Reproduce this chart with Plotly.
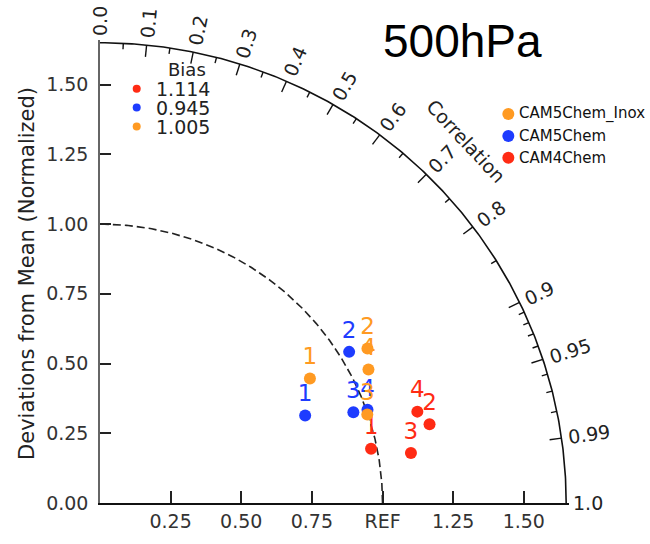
import numpy as np
import plotly.graph_objects as go

# ---------------- data ----------------
models = ["CAM4Chem", "CAM5Chem", "CAM5Chem_Inox"]
model_colors = ["#ff2b14", "#1e3cff", "#ff9a22"]
case_labels = ["1", "2", "3", "4"]

std_cam4 = [0.979, 1.200, 1.115, 1.170]
corr_cam4 = [0.980, 0.972, 0.987, 0.960]
std_cam5 = [0.791, 1.035, 0.954, 1.004]
corr_cam5 = [0.918, 0.852, 0.940, 0.943]
std_inox = [0.867, 1.097, 0.998, 1.064]
corr_inox = [0.857, 0.863, 0.948, 0.893]

bias_values = [1.114, 0.945, 1.005]

corr_major = [0.0, 0.1, 0.2, 0.3, 0.4, 0.5, 0.6, 0.7, 0.8, 0.9, 0.95, 0.99, 1.0]
corr_major_text = ["0.0", "0.1", "0.2", "0.3", "0.4", "0.5", "0.6", "0.7", "0.8", "0.9",
                   "0.95", "0.99", "1.0"]
corr_minor = [0.05, 0.15, 0.25, 0.35, 0.45, 0.55, 0.65, 0.75, 0.85,
              0.91, 0.92, 0.93, 0.94, 0.96, 0.97, 0.98]
x_tickvals = [0.25, 0.5, 0.75, 1.0, 1.25, 1.5]
x_ticktext = ["0.25", "0.50", "0.75", "REF", "1.25", "1.50"]
y_tickvals = [0.0, 0.25, 0.5, 0.75, 1.0, 1.25, 1.5]
y_ticktext = ["0.00", "0.25", "0.50", "0.75", "1.00", "1.25", "1.50"]

RMAX = 1.65
REF = 1.0
AXMAX = 1.66

# ---------------- layout constants ----------------
W, H = 650, 544
PX = 282.5  # pixels per unit
L, B = 100, 35
PW = AXMAX * PX
R = W - L - PW
T = H - B - PW
FONT = "DejaVu Sans"


def paper(px, py):
    """pixel position -> paper coordinates"""
    return (px - L) / PW, (H - B - py) / PW


def data_to_paper(x, y):
    return x / AXMAX, y / AXMAX


fig = go.Figure()

# outer arc
th = np.linspace(0, np.pi / 2, 300)
fig.add_trace(go.Scatter(x=RMAX * np.cos(th), y=RMAX * np.sin(th), mode="lines",
                         line=dict(color="#111", width=1.6), hoverinfo="skip", showlegend=False))
# reference arc (dashed)
fig.add_trace(go.Scatter(x=REF * np.cos(th), y=REF * np.sin(th), mode="lines",
                         line=dict(color="#222", width=1.6, dash="8px,4px"),
                         hoverinfo="skip", showlegend=False))


# correlation ticks on the outer arc
def tick_segments(vals, length):
    xs, ys = [], []
    for c in vals:
        a = np.arccos(c)
        xs += [RMAX * np.cos(a), (RMAX - length) * np.cos(a), None]
        ys += [RMAX * np.sin(a), (RMAX - length) * np.sin(a), None]
    return xs, ys


mx, my = tick_segments(corr_major[1:-1], 12 / PX)
fig.add_trace(go.Scatter(x=mx, y=my, mode="lines", line=dict(color="#111", width=1.4),
                         hoverinfo="skip", showlegend=False))
nx, ny = tick_segments(corr_minor, 6 / PX)
fig.add_trace(go.Scatter(x=nx, y=ny, mode="lines", line=dict(color="#111", width=1.4),
                         hoverinfo="skip", showlegend=False))

# correlation labels
CFS = 19


def text_w(s, fs):
    return sum(0.318 if ch == "." else 0.636 for ch in s) * fs


for c, lab in zip(corr_major, corr_major_text):
    a = np.arccos(c)
    rc = RMAX + (7 + text_w(lab, CFS) / 2) / PX
    xp, yp = data_to_paper(rc * np.cos(a), rc * np.sin(a))
    fig.add_annotation(xref="paper", yref="paper", x=xp, y=yp, text=lab, showarrow=False,
                       textangle=-np.degrees(a), xanchor="center", yanchor="middle",
                       font=dict(family=FONT, size=CFS, color="#222"))

xp, yp = paper(466, 142)
fig.add_annotation(xref="paper", yref="paper", x=xp, y=yp, text="Correlation", showarrow=False,
                   textangle=47, xanchor="center", yanchor="middle",
                   font=dict(family=FONT, size=19, color="#222"))

# data series
series = [(std_cam4, corr_cam4), (std_cam5, corr_cam5), (std_inox, corr_inox)]
for name, col, (sd, cr) in zip(models, model_colors, series):
    sd = np.array(sd)
    cr = np.array(cr)
    fig.add_trace(go.Scatter(
        x=sd * cr, y=sd * np.sqrt(1 - cr ** 2), mode="markers+text",
        marker=dict(color=col, size=12, line=dict(width=0)),
        text=case_labels, textposition="top center",
        textfont=dict(family=FONT, size=23, color=col),
        name=name, cliponaxis=False, showlegend=False))

# right legend (manual)
leg_order = [2, 1, 0]
for i, k in enumerate(leg_order):
    xp, yp = paper(508.3, 115 + 22.2 * i)
    fig.add_shape(type="circle", xref="paper", yref="paper", xsizemode="pixel", ysizemode="pixel",
                  xanchor=xp, yanchor=yp, x0=-6, x1=6, y0=-6, y1=6,
                  fillcolor=model_colors[k], line=dict(width=0))
    xt, _ = paper(517, 0)
    fig.add_annotation(xref="paper", yref="paper", x=xt, y=yp, text=models[k], showarrow=False,
                       xanchor="left", yanchor="middle",
                       font=dict(family=FONT, size=15, color="#111"))

# bias legend (manual)
xp, yp = paper(186.7, 70)
fig.add_annotation(xref="paper", yref="paper", x=xp, y=yp, text="Bias", showarrow=False,
                   xanchor="center", yanchor="middle", font=dict(family=FONT, size=18, color="#222"))
for i, (bv, col) in enumerate(zip(bias_values, model_colors)):
    xp, yp = paper(136.7, 89.3 + 19.2 * i)
    fig.add_shape(type="circle", xref="paper", yref="paper", xsizemode="pixel", ysizemode="pixel",
                  xanchor=xp, yanchor=yp, x0=-4, x1=4, y0=-4, y1=4,
                  fillcolor=col, line=dict(width=0))
    xt, _ = paper(154, 0)
    fig.add_annotation(xref="paper", yref="paper", x=xt, y=yp, text=f"{bv:.3f}", showarrow=False,
                       xanchor="left", yanchor="middle",
                       font=dict(family=FONT, size=19, color="#222"))

# y title
xp, yp = paper(27, 276)
fig.add_annotation(xref="paper", yref="paper", x=xp, y=yp, text="Deviations from Mean (Normalized)",
                   showarrow=False, textangle=-90, xanchor="center", yanchor="middle",
                   font=dict(family=FONT, size=21, color="#222"))

# title
xp, yp = paper(462.5, 41)
fig.add_annotation(xref="paper", yref="paper", x=xp, y=yp, text="500hPa", showarrow=False,
                   xanchor="center", yanchor="middle",
                   font=dict(family="Liberation Sans, Arial", size=46, color="#000"))

axis_common = dict(range=[0, AXMAX], showgrid=False, zeroline=False, showline=True,
                   linewidth=1.5, ticks="inside", tickwidth=1.5,
                   tickcolor="#222", tickfont=dict(family=FONT, size=19, color="#333"),
                   fixedrange=True)
fig.update_xaxes(**axis_common, linecolor="#111", tickvals=x_tickvals, ticktext=x_ticktext,
                 ticklen=12)
fig.update_yaxes(**axis_common, linecolor="#666", tickvals=y_tickvals, ticktext=y_ticktext,
                 ticklen=11, ticklabelstandoff=6)

fig.update_layout(width=W, height=H, margin=dict(l=L, r=R, t=T, b=B, pad=0),
                  plot_bgcolor="white", paper_bgcolor="white", showlegend=False)

fig.write_html("out.html")
